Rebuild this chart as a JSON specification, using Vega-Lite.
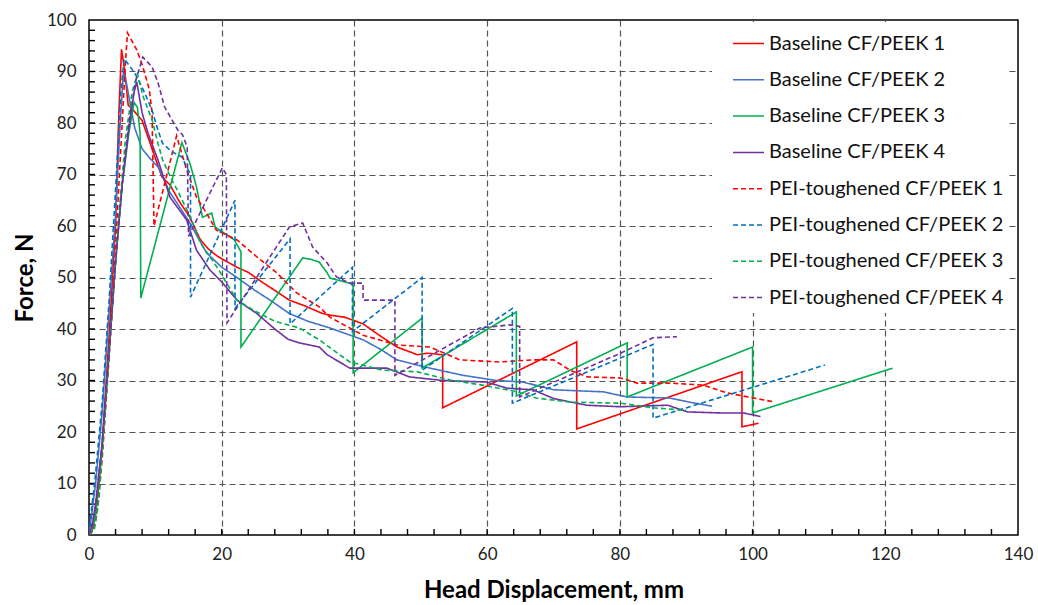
{
 "$schema": "https://vega.github.io/schema/vega-lite/v6.json",
 "width": 929, "height": 515,
 "autosize": {"type": "none"},
 "padding": {"left": 89, "top": 20, "right": 20, "bottom": 70},
 "background": "white",
 "config": {
  "font": "Lato",
  "view": {"stroke": "black", "strokeWidth": 1.5},
  "axis": {"domain": false, "grid": true, "ticks": false, "gridDash": [6, 4], "gridColor": "#555555", "gridWidth": 1.2, "labelFontSize": 17, "labelColor": "#222222", "labelFont": "Lato", "titleFont": "Lato", "titleFontSize": 24, "titleFontWeight": "bold", "titleColor": "#000000"}
 },
 "datasets": {
  "xticks": [{"t":4},{"t":8},{"t":12},{"t":16},{"t":20},{"t":24},{"t":28},{"t":32},{"t":36},{"t":40},{"t":44},{"t":48},{"t":52},{"t":56},{"t":60},{"t":64},{"t":68},{"t":72},{"t":76},{"t":80},{"t":84},{"t":88},{"t":92},{"t":96},{"t":100},{"t":104},{"t":108},{"t":112},{"t":116},{"t":120},{"t":124},{"t":128},{"t":132},{"t":136}],
  "yticks": [{"t":2},{"t":4},{"t":6},{"t":8},{"t":10},{"t":12},{"t":14},{"t":16},{"t":18},{"t":20},{"t":22},{"t":24},{"t":26},{"t":28},{"t":30},{"t":32},{"t":34},{"t":36},{"t":38},{"t":40},{"t":42},{"t":44},{"t":46},{"t":48},{"t":50},{"t":52},{"t":54},{"t":56},{"t":58},{"t":60},{"t":62},{"t":64},{"t":66},{"t":68},{"t":70},{"t":72},{"t":74},{"t":76},{"t":78},{"t":80},{"t":82},{"t":84},{"t":86},{"t":88},{"t":90},{"t":92},{"t":94},{"t":96},{"t":98}]
 },
 "data": {"values": [
  {"series":"Baseline CF/PEEK 1","i":0,"x":0,"y":0},{"series":"Baseline CF/PEEK 1","i":1,"x":0.5,"y":1},{"series":"Baseline CF/PEEK 1","i":2,"x":1,"y":4},{"series":"Baseline CF/PEEK 1","i":3,"x":1.5,"y":10},{"series":"Baseline CF/PEEK 1","i":4,"x":2,"y":18},{"series":"Baseline CF/PEEK 1","i":5,"x":3,"y":38},{"series":"Baseline CF/PEEK 1","i":6,"x":4,"y":60},{"series":"Baseline CF/PEEK 1","i":7,"x":4.5,"y":82},{"series":"Baseline CF/PEEK 1","i":8,"x":4.9,"y":94.3},{"series":"Baseline CF/PEEK 1","i":9,"x":5.4,"y":90},{"series":"Baseline CF/PEEK 1","i":10,"x":5.9,"y":83.5},{"series":"Baseline CF/PEEK 1","i":11,"x":7,"y":82},{"series":"Baseline CF/PEEK 1","i":12,"x":8,"y":80.5},{"series":"Baseline CF/PEEK 1","i":13,"x":9.5,"y":75},{"series":"Baseline CF/PEEK 1","i":14,"x":11,"y":69.5},{"series":"Baseline CF/PEEK 1","i":15,"x":12.2,"y":68},{"series":"Baseline CF/PEEK 1","i":16,"x":13.5,"y":65},{"series":"Baseline CF/PEEK 1","i":17,"x":15.2,"y":61.7},{"series":"Baseline CF/PEEK 1","i":18,"x":16.7,"y":57.5},{"series":"Baseline CF/PEEK 1","i":19,"x":18,"y":55.5},{"series":"Baseline CF/PEEK 1","i":20,"x":19.5,"y":54},{"series":"Baseline CF/PEEK 1","i":21,"x":22.3,"y":52},{"series":"Baseline CF/PEEK 1","i":22,"x":24,"y":51},{"series":"Baseline CF/PEEK 1","i":23,"x":26.2,"y":49},{"series":"Baseline CF/PEEK 1","i":24,"x":28,"y":47.5},{"series":"Baseline CF/PEEK 1","i":25,"x":30.2,"y":45.6},{"series":"Baseline CF/PEEK 1","i":26,"x":32.5,"y":44.5},{"series":"Baseline CF/PEEK 1","i":27,"x":35.2,"y":43},{"series":"Baseline CF/PEEK 1","i":28,"x":36.3,"y":42.7},{"series":"Baseline CF/PEEK 1","i":29,"x":38.5,"y":42.3},{"series":"Baseline CF/PEEK 1","i":30,"x":41.3,"y":41},{"series":"Baseline CF/PEEK 1","i":31,"x":43.5,"y":39},{"series":"Baseline CF/PEEK 1","i":32,"x":46.4,"y":36.5},{"series":"Baseline CF/PEEK 1","i":33,"x":49.5,"y":35},{"series":"Baseline CF/PEEK 1","i":34,"x":51,"y":35.3},{"series":"Baseline CF/PEEK 1","i":35,"x":53.3,"y":35},{"series":"Baseline CF/PEEK 1","i":36,"x":53.3,"y":24.7},{"series":"Baseline CF/PEEK 1","i":37,"x":73.5,"y":37.5},{"series":"Baseline CF/PEEK 1","i":38,"x":73.5,"y":20.6},{"series":"Baseline CF/PEEK 1","i":39,"x":98.4,"y":31.7},{"series":"Baseline CF/PEEK 1","i":40,"x":98.4,"y":21},{"series":"Baseline CF/PEEK 1","i":41,"x":100.9,"y":21.7},

  {"series":"Baseline CF/PEEK 2","i":0,"x":0,"y":0},{"series":"Baseline CF/PEEK 2","i":1,"x":0.3,"y":3},{"series":"Baseline CF/PEEK 2","i":2,"x":1,"y":10},{"series":"Baseline CF/PEEK 2","i":3,"x":2,"y":24},{"series":"Baseline CF/PEEK 2","i":4,"x":3,"y":43},{"series":"Baseline CF/PEEK 2","i":5,"x":4,"y":62},{"series":"Baseline CF/PEEK 2","i":6,"x":4.7,"y":80},{"series":"Baseline CF/PEEK 2","i":7,"x":5.2,"y":90},{"series":"Baseline CF/PEEK 2","i":8,"x":5.6,"y":88},{"series":"Baseline CF/PEEK 2","i":9,"x":6.9,"y":79},{"series":"Baseline CF/PEEK 2","i":10,"x":8,"y":75},{"series":"Baseline CF/PEEK 2","i":11,"x":9,"y":73.4},{"series":"Baseline CF/PEEK 2","i":12,"x":10.4,"y":71.5},{"series":"Baseline CF/PEEK 2","i":13,"x":12.2,"y":66.5},{"series":"Baseline CF/PEEK 2","i":14,"x":13.5,"y":64},{"series":"Baseline CF/PEEK 2","i":15,"x":15.2,"y":60.6},{"series":"Baseline CF/PEEK 2","i":16,"x":17.7,"y":54.8},{"series":"Baseline CF/PEEK 2","i":17,"x":20,"y":52},{"series":"Baseline CF/PEEK 2","i":18,"x":22.3,"y":50},{"series":"Baseline CF/PEEK 2","i":19,"x":25,"y":47.5},{"series":"Baseline CF/PEEK 2","i":20,"x":27.3,"y":45.6},{"series":"Baseline CF/PEEK 2","i":21,"x":30.2,"y":43},{"series":"Baseline CF/PEEK 2","i":22,"x":33,"y":41.5},{"series":"Baseline CF/PEEK 2","i":23,"x":36.3,"y":40.2},{"series":"Baseline CF/PEEK 2","i":24,"x":41.3,"y":37.9},{"series":"Baseline CF/PEEK 2","i":25,"x":44,"y":36},{"series":"Baseline CF/PEEK 2","i":26,"x":46.4,"y":34},{"series":"Baseline CF/PEEK 2","i":27,"x":51.4,"y":32.4},{"series":"Baseline CF/PEEK 2","i":28,"x":56.4,"y":31},{"series":"Baseline CF/PEEK 2","i":29,"x":61.4,"y":30},{"series":"Baseline CF/PEEK 2","i":30,"x":65.4,"y":29.7},{"series":"Baseline CF/PEEK 2","i":31,"x":70,"y":28.2},{"series":"Baseline CF/PEEK 2","i":32,"x":77.5,"y":27.8},{"series":"Baseline CF/PEEK 2","i":33,"x":81.1,"y":26.8},{"series":"Baseline CF/PEEK 2","i":34,"x":87.5,"y":26.6},{"series":"Baseline CF/PEEK 2","i":35,"x":90.5,"y":25.8},{"series":"Baseline CF/PEEK 2","i":36,"x":93.9,"y":25},

  {"series":"Baseline CF/PEEK 3","i":0,"x":0,"y":0},{"series":"Baseline CF/PEEK 3","i":1,"x":0.5,"y":1},{"series":"Baseline CF/PEEK 3","i":2,"x":1,"y":4},{"series":"Baseline CF/PEEK 3","i":3,"x":2,"y":17},{"series":"Baseline CF/PEEK 3","i":4,"x":3,"y":35},{"series":"Baseline CF/PEEK 3","i":5,"x":4,"y":53},{"series":"Baseline CF/PEEK 3","i":6,"x":5,"y":68},{"series":"Baseline CF/PEEK 3","i":7,"x":6,"y":78},{"series":"Baseline CF/PEEK 3","i":8,"x":6.8,"y":84},{"series":"Baseline CF/PEEK 3","i":9,"x":7.3,"y":83},{"series":"Baseline CF/PEEK 3","i":10,"x":7.7,"y":78},{"series":"Baseline CF/PEEK 3","i":11,"x":7.8,"y":46},{"series":"Baseline CF/PEEK 3","i":12,"x":14,"y":76.2},{"series":"Baseline CF/PEEK 3","i":13,"x":15.2,"y":72.2},{"series":"Baseline CF/PEEK 3","i":14,"x":16.2,"y":67.6},{"series":"Baseline CF/PEEK 3","i":15,"x":17.1,"y":61.7},{"series":"Baseline CF/PEEK 3","i":16,"x":18.5,"y":62.5},{"series":"Baseline CF/PEEK 3","i":17,"x":19,"y":59.8},{"series":"Baseline CF/PEEK 3","i":18,"x":20.4,"y":58.6},{"series":"Baseline CF/PEEK 3","i":19,"x":21.9,"y":57.3},{"series":"Baseline CF/PEEK 3","i":20,"x":22.9,"y":55},{"series":"Baseline CF/PEEK 3","i":21,"x":22.9,"y":36.5},{"series":"Baseline CF/PEEK 3","i":22,"x":32.2,"y":53.8},{"series":"Baseline CF/PEEK 3","i":23,"x":33.5,"y":53.5},{"series":"Baseline CF/PEEK 3","i":24,"x":34.7,"y":53},{"series":"Baseline CF/PEEK 3","i":25,"x":35.9,"y":50.9},{"series":"Baseline CF/PEEK 3","i":26,"x":36.3,"y":49.9},{"series":"Baseline CF/PEEK 3","i":27,"x":39.3,"y":48.9},{"series":"Baseline CF/PEEK 3","i":28,"x":39.8,"y":48.5},{"series":"Baseline CF/PEEK 3","i":29,"x":39.8,"y":31.5},{"series":"Baseline CF/PEEK 3","i":30,"x":50.2,"y":42.1},{"series":"Baseline CF/PEEK 3","i":31,"x":50.2,"y":32.4},{"series":"Baseline CF/PEEK 3","i":32,"x":64.4,"y":43.3},{"series":"Baseline CF/PEEK 3","i":33,"x":64.4,"y":27},{"series":"Baseline CF/PEEK 3","i":34,"x":81.1,"y":37.3},{"series":"Baseline CF/PEEK 3","i":35,"x":81.1,"y":26.8},{"series":"Baseline CF/PEEK 3","i":36,"x":100,"y":36.5},{"series":"Baseline CF/PEEK 3","i":37,"x":100,"y":23.7},{"series":"Baseline CF/PEEK 3","i":38,"x":121.1,"y":32.4},

  {"series":"Baseline CF/PEEK 4","i":0,"x":0,"y":0},{"series":"Baseline CF/PEEK 4","i":1,"x":0.5,"y":2},{"series":"Baseline CF/PEEK 4","i":2,"x":1,"y":6},{"series":"Baseline CF/PEEK 4","i":3,"x":2,"y":18},{"series":"Baseline CF/PEEK 4","i":4,"x":3,"y":35},{"series":"Baseline CF/PEEK 4","i":5,"x":4,"y":53},{"series":"Baseline CF/PEEK 4","i":6,"x":5,"y":68},{"series":"Baseline CF/PEEK 4","i":7,"x":6,"y":79},{"series":"Baseline CF/PEEK 4","i":8,"x":6.8,"y":86},{"series":"Baseline CF/PEEK 4","i":9,"x":7.2,"y":88},{"series":"Baseline CF/PEEK 4","i":10,"x":8,"y":82},{"series":"Baseline CF/PEEK 4","i":11,"x":8.9,"y":78},{"series":"Baseline CF/PEEK 4","i":12,"x":10.4,"y":72.8},{"series":"Baseline CF/PEEK 4","i":13,"x":12.2,"y":65.6},{"series":"Baseline CF/PEEK 4","i":14,"x":14.7,"y":61.2},{"series":"Baseline CF/PEEK 4","i":15,"x":16.2,"y":55.3},{"series":"Baseline CF/PEEK 4","i":16,"x":18.2,"y":51.5},{"series":"Baseline CF/PEEK 4","i":17,"x":20.1,"y":49},{"series":"Baseline CF/PEEK 4","i":18,"x":22.3,"y":45.6},{"series":"Baseline CF/PEEK 4","i":19,"x":25.3,"y":43},{"series":"Baseline CF/PEEK 4","i":20,"x":28,"y":40},{"series":"Baseline CF/PEEK 4","i":21,"x":30,"y":38},{"series":"Baseline CF/PEEK 4","i":22,"x":31.7,"y":37.3},{"series":"Baseline CF/PEEK 4","i":23,"x":34.7,"y":36.5},{"series":"Baseline CF/PEEK 4","i":24,"x":35.9,"y":35},{"series":"Baseline CF/PEEK 4","i":25,"x":39.3,"y":32.4},{"series":"Baseline CF/PEEK 4","i":26,"x":44.9,"y":32.4},{"series":"Baseline CF/PEEK 4","i":27,"x":48.3,"y":30.7},{"series":"Baseline CF/PEEK 4","i":28,"x":53.3,"y":30},{"series":"Baseline CF/PEEK 4","i":29,"x":59.9,"y":29.7},{"series":"Baseline CF/PEEK 4","i":30,"x":63,"y":28.5},{"series":"Baseline CF/PEEK 4","i":31,"x":66.9,"y":28.2},{"series":"Baseline CF/PEEK 4","i":32,"x":70,"y":26.5},{"series":"Baseline CF/PEEK 4","i":33,"x":75,"y":25.2},{"series":"Baseline CF/PEEK 4","i":34,"x":80.1,"y":24.9},{"series":"Baseline CF/PEEK 4","i":35,"x":87.2,"y":25.2},{"series":"Baseline CF/PEEK 4","i":36,"x":90.2,"y":23.9},{"series":"Baseline CF/PEEK 4","i":37,"x":95.1,"y":23.7},{"series":"Baseline CF/PEEK 4","i":38,"x":98.6,"y":23.7},{"series":"Baseline CF/PEEK 4","i":39,"x":101.2,"y":23},

  {"series":"PEI-toughened CF/PEEK 1","i":0,"x":0,"y":0},{"series":"PEI-toughened CF/PEEK 1","i":1,"x":0.7,"y":1},{"series":"PEI-toughened CF/PEEK 1","i":2,"x":1.2,"y":4},{"series":"PEI-toughened CF/PEEK 1","i":3,"x":2,"y":15},{"series":"PEI-toughened CF/PEEK 1","i":4,"x":3,"y":34},{"series":"PEI-toughened CF/PEEK 1","i":5,"x":4,"y":56},{"series":"PEI-toughened CF/PEEK 1","i":6,"x":5,"y":80},{"series":"PEI-toughened CF/PEEK 1","i":7,"x":5.5,"y":92},{"series":"PEI-toughened CF/PEEK 1","i":8,"x":5.8,"y":97.5},{"series":"PEI-toughened CF/PEEK 1","i":9,"x":7.2,"y":94.2},{"series":"PEI-toughened CF/PEEK 1","i":10,"x":8.1,"y":91},{"series":"PEI-toughened CF/PEEK 1","i":11,"x":9.1,"y":86.4},{"series":"PEI-toughened CF/PEEK 1","i":12,"x":9.5,"y":82},{"series":"PEI-toughened CF/PEEK 1","i":13,"x":9.8,"y":60},{"series":"PEI-toughened CF/PEEK 1","i":14,"x":13.2,"y":77.5},{"series":"PEI-toughened CF/PEEK 1","i":15,"x":14.7,"y":71},{"series":"PEI-toughened CF/PEEK 1","i":16,"x":16.2,"y":65.6},{"series":"PEI-toughened CF/PEEK 1","i":17,"x":17.7,"y":62.5},{"series":"PEI-toughened CF/PEEK 1","i":18,"x":19.2,"y":59.2},{"series":"PEI-toughened CF/PEEK 1","i":19,"x":22.3,"y":57.3},{"series":"PEI-toughened CF/PEEK 1","i":20,"x":25.3,"y":54},{"series":"PEI-toughened CF/PEEK 1","i":21,"x":28.3,"y":50.9},{"series":"PEI-toughened CF/PEEK 1","i":22,"x":31.3,"y":47},{"series":"PEI-toughened CF/PEEK 1","i":23,"x":34.7,"y":44.3},{"series":"PEI-toughened CF/PEEK 1","i":24,"x":36.3,"y":42.3},{"series":"PEI-toughened CF/PEEK 1","i":25,"x":41.3,"y":38.8},{"series":"PEI-toughened CF/PEEK 1","i":26,"x":46.4,"y":36.9},{"series":"PEI-toughened CF/PEEK 1","i":27,"x":51.4,"y":36.5},{"series":"PEI-toughened CF/PEEK 1","i":28,"x":55.9,"y":34},{"series":"PEI-toughened CF/PEEK 1","i":29,"x":61.9,"y":33.6},{"series":"PEI-toughened CF/PEEK 1","i":30,"x":66.9,"y":34},{"series":"PEI-toughened CF/PEEK 1","i":31,"x":70,"y":34},{"series":"PEI-toughened CF/PEEK 1","i":32,"x":72.5,"y":32},{"series":"PEI-toughened CF/PEEK 1","i":33,"x":75.1,"y":30.7},{"series":"PEI-toughened CF/PEEK 1","i":34,"x":80.1,"y":30.5},{"series":"PEI-toughened CF/PEEK 1","i":35,"x":82.6,"y":29.5},{"series":"PEI-toughened CF/PEEK 1","i":36,"x":87.5,"y":29.5},{"series":"PEI-toughened CF/PEEK 1","i":37,"x":92.6,"y":29.1},{"series":"PEI-toughened CF/PEEK 1","i":38,"x":96.1,"y":27.6},{"series":"PEI-toughened CF/PEEK 1","i":39,"x":103.4,"y":25.8},

  {"series":"PEI-toughened CF/PEEK 2","i":0,"x":0,"y":0},{"series":"PEI-toughened CF/PEEK 2","i":1,"x":0.3,"y":4},{"series":"PEI-toughened CF/PEEK 2","i":2,"x":1,"y":12},{"series":"PEI-toughened CF/PEEK 2","i":3,"x":2,"y":26},{"series":"PEI-toughened CF/PEEK 2","i":4,"x":3,"y":45},{"series":"PEI-toughened CF/PEEK 2","i":5,"x":4,"y":67},{"series":"PEI-toughened CF/PEEK 2","i":6,"x":4.8,"y":86},{"series":"PEI-toughened CF/PEEK 2","i":7,"x":5.3,"y":92.5},{"series":"PEI-toughened CF/PEEK 2","i":8,"x":6.9,"y":89.7},{"series":"PEI-toughened CF/PEEK 2","i":9,"x":8.2,"y":86.4},{"series":"PEI-toughened CF/PEEK 2","i":10,"x":9.5,"y":82.5},{"series":"PEI-toughened CF/PEEK 2","i":11,"x":10.4,"y":78.6},{"series":"PEI-toughened CF/PEEK 2","i":12,"x":11.1,"y":76},{"series":"PEI-toughened CF/PEEK 2","i":13,"x":12.5,"y":74.4},{"series":"PEI-toughened CF/PEEK 2","i":14,"x":14,"y":73.4},{"series":"PEI-toughened CF/PEEK 2","i":15,"x":14.9,"y":71},{"series":"PEI-toughened CF/PEEK 2","i":16,"x":15.3,"y":70},{"series":"PEI-toughened CF/PEEK 2","i":17,"x":15.3,"y":46.2},{"series":"PEI-toughened CF/PEEK 2","i":18,"x":22,"y":65},{"series":"PEI-toughened CF/PEEK 2","i":19,"x":22,"y":44},{"series":"PEI-toughened CF/PEEK 2","i":20,"x":30.3,"y":57.5},{"series":"PEI-toughened CF/PEEK 2","i":21,"x":30.3,"y":41},{"series":"PEI-toughened CF/PEEK 2","i":22,"x":39.7,"y":52},{"series":"PEI-toughened CF/PEEK 2","i":23,"x":39.7,"y":39.5},{"series":"PEI-toughened CF/PEEK 2","i":24,"x":50.2,"y":50},{"series":"PEI-toughened CF/PEEK 2","i":25,"x":50.2,"y":32},{"series":"PEI-toughened CF/PEEK 2","i":26,"x":63.8,"y":44},{"series":"PEI-toughened CF/PEEK 2","i":27,"x":63.8,"y":25.6},{"series":"PEI-toughened CF/PEEK 2","i":28,"x":85,"y":37},{"series":"PEI-toughened CF/PEEK 2","i":29,"x":85,"y":22.7},{"series":"PEI-toughened CF/PEEK 2","i":30,"x":110.9,"y":33},

  {"series":"PEI-toughened CF/PEEK 3","i":0,"x":0,"y":0},{"series":"PEI-toughened CF/PEEK 3","i":1,"x":0.8,"y":1},{"series":"PEI-toughened CF/PEEK 3","i":2,"x":1.5,"y":7},{"series":"PEI-toughened CF/PEEK 3","i":3,"x":2.5,"y":25},{"series":"PEI-toughened CF/PEEK 3","i":4,"x":3.5,"y":44},{"series":"PEI-toughened CF/PEEK 3","i":5,"x":4.5,"y":62},{"series":"PEI-toughened CF/PEEK 3","i":6,"x":5.5,"y":77},{"series":"PEI-toughened CF/PEEK 3","i":7,"x":6.5,"y":86},{"series":"PEI-toughened CF/PEEK 3","i":8,"x":7.3,"y":89.5},{"series":"PEI-toughened CF/PEEK 3","i":9,"x":8.2,"y":85},{"series":"PEI-toughened CF/PEEK 3","i":10,"x":9.5,"y":80.6},{"series":"PEI-toughened CF/PEEK 3","i":11,"x":10.4,"y":76},{"series":"PEI-toughened CF/PEEK 3","i":12,"x":11.1,"y":72.8},{"series":"PEI-toughened CF/PEEK 3","i":13,"x":12.5,"y":68.9},{"series":"PEI-toughened CF/PEEK 3","i":14,"x":13.3,"y":67},{"series":"PEI-toughened CF/PEEK 3","i":15,"x":15.3,"y":61.7},{"series":"PEI-toughened CF/PEEK 3","i":16,"x":16.8,"y":56.7},{"series":"PEI-toughened CF/PEEK 3","i":17,"x":19.3,"y":52},{"series":"PEI-toughened CF/PEEK 3","i":18,"x":22.3,"y":45.6},{"series":"PEI-toughened CF/PEEK 3","i":19,"x":25,"y":43.5},{"series":"PEI-toughened CF/PEEK 3","i":20,"x":28,"y":41.5},{"series":"PEI-toughened CF/PEEK 3","i":21,"x":31.7,"y":40.2},{"series":"PEI-toughened CF/PEEK 3","i":22,"x":34.7,"y":37.9},{"series":"PEI-toughened CF/PEEK 3","i":23,"x":39.3,"y":33.6},{"series":"PEI-toughened CF/PEEK 3","i":24,"x":44.3,"y":32},{"series":"PEI-toughened CF/PEEK 3","i":25,"x":49.4,"y":31.7},{"series":"PEI-toughened CF/PEEK 3","i":26,"x":54.4,"y":30.1},{"series":"PEI-toughened CF/PEEK 3","i":27,"x":59.3,"y":29.1},{"series":"PEI-toughened CF/PEEK 3","i":28,"x":64.5,"y":27.8},{"series":"PEI-toughened CF/PEEK 3","i":29,"x":67.4,"y":26.6},{"series":"PEI-toughened CF/PEEK 3","i":30,"x":72.5,"y":25.8},{"series":"PEI-toughened CF/PEEK 3","i":31,"x":80.1,"y":25.6},{"series":"PEI-toughened CF/PEEK 3","i":32,"x":85,"y":24.7},{"series":"PEI-toughened CF/PEEK 3","i":33,"x":90,"y":24.2},

  {"series":"PEI-toughened CF/PEEK 4","i":0,"x":0,"y":0},{"series":"PEI-toughened CF/PEEK 4","i":1,"x":0.5,"y":2},{"series":"PEI-toughened CF/PEEK 4","i":2,"x":1,"y":6},{"series":"PEI-toughened CF/PEEK 4","i":3,"x":2,"y":18},{"series":"PEI-toughened CF/PEEK 4","i":4,"x":3,"y":35},{"series":"PEI-toughened CF/PEEK 4","i":5,"x":4,"y":53},{"series":"PEI-toughened CF/PEEK 4","i":6,"x":5,"y":68},{"series":"PEI-toughened CF/PEEK 4","i":7,"x":6,"y":80},{"series":"PEI-toughened CF/PEEK 4","i":8,"x":7,"y":88},{"series":"PEI-toughened CF/PEEK 4","i":9,"x":8.1,"y":92.8},{"series":"PEI-toughened CF/PEEK 4","i":10,"x":9.5,"y":90.9},{"series":"PEI-toughened CF/PEEK 4","i":11,"x":10.4,"y":87.8},{"series":"PEI-toughened CF/PEEK 4","i":12,"x":11.4,"y":83.1},{"series":"PEI-toughened CF/PEEK 4","i":13,"x":12.5,"y":80.6},{"series":"PEI-toughened CF/PEEK 4","i":14,"x":13.4,"y":78.6},{"series":"PEI-toughened CF/PEEK 4","i":15,"x":14.1,"y":77.7},{"series":"PEI-toughened CF/PEEK 4","i":16,"x":14.8,"y":75.3},{"series":"PEI-toughened CF/PEEK 4","i":17,"x":15,"y":58},{"series":"PEI-toughened CF/PEEK 4","i":18,"x":20.1,"y":71.3},{"series":"PEI-toughened CF/PEEK 4","i":19,"x":20.7,"y":70},{"series":"PEI-toughened CF/PEEK 4","i":20,"x":20.8,"y":41.2},{"series":"PEI-toughened CF/PEEK 4","i":21,"x":30.2,"y":59.8},{"series":"PEI-toughened CF/PEEK 4","i":22,"x":32.2,"y":60.6},{"series":"PEI-toughened CF/PEEK 4","i":23,"x":33.7,"y":55.9},{"series":"PEI-toughened CF/PEEK 4","i":24,"x":35.9,"y":52.8},{"series":"PEI-toughened CF/PEEK 4","i":25,"x":37.3,"y":50.1},{"series":"PEI-toughened CF/PEEK 4","i":26,"x":39.3,"y":48.9},{"series":"PEI-toughened CF/PEEK 4","i":27,"x":41.3,"y":48.9},{"series":"PEI-toughened CF/PEEK 4","i":28,"x":41.3,"y":45.6},{"series":"PEI-toughened CF/PEEK 4","i":29,"x":46.1,"y":45.6},{"series":"PEI-toughened CF/PEEK 4","i":30,"x":46.1,"y":31},{"series":"PEI-toughened CF/PEEK 4","i":31,"x":58.9,"y":40.2},{"series":"PEI-toughened CF/PEEK 4","i":32,"x":63.4,"y":40.8},{"series":"PEI-toughened CF/PEEK 4","i":33,"x":64.9,"y":40.5},{"series":"PEI-toughened CF/PEEK 4","i":34,"x":64.9,"y":26.8},{"series":"PEI-toughened CF/PEEK 4","i":35,"x":80.1,"y":35.3},{"series":"PEI-toughened CF/PEEK 4","i":36,"x":85,"y":38.3},{"series":"PEI-toughened CF/PEEK 4","i":37,"x":88.6,"y":38.5}
 ]},
 "layer": [
  {
   "data": {"name": "xticks"},
   "mark": {"type": "tick", "orient": "vertical", "size": 6, "thickness": 1.4, "color": "#000000", "yOffset": -3, "opacity": 1},
   "encoding": {
    "x": {"field": "t", "type": "quantitative", "title": "Head Displacement, mm"},
    "y": {"datum": 0, "type": "quantitative", "title": "Force, N"}
   }
  },
  {
   "data": {"name": "yticks"},
   "mark": {"type": "tick", "orient": "horizontal", "size": 6, "thickness": 1.4, "color": "#000000", "xOffset": 3, "opacity": 1},
   "encoding": {
    "y": {"field": "t", "type": "quantitative", "title": "Force, N"},
    "x": {"datum": 0, "type": "quantitative", "title": "Head Displacement, mm"}
   }
  },
  {
   "mark": {"type": "line", "strokeWidth": 1.6, "clip": true},
   "encoding": {
    "x": {"field": "x", "type": "quantitative", "title": "Head Displacement, mm",
     "scale": {"domain": [0, 140], "nice": false, "zero": false},
     "axis": {"values": [0,20,40,60,80,100,120,140], "grid": true, "ticks": false, "labelPadding": 11, "labelFlush": false, "labelOverlap": false, "titlePadding": 16,
      "gridOpacity": {"condition": {"test": "datum.value > 0 && datum.value < 140", "value": 1}, "value": 0}}},
    "y": {"field": "y", "type": "quantitative", "title": "Force, N",
     "scale": {"domain": [0, 100], "nice": false, "zero": false},
     "axis": {"values": [0,10,20,30,40,50,60,70,80,90,100], "grid": true, "ticks": false, "labelPadding": 13, "labelFlush": false, "labelOverlap": false, "titlePadding": 9,
      "gridOpacity": {"condition": {"test": "datum.value > 0 && datum.value < 100", "value": 1}, "value": 0}}},
    "color": {"field": "series", "type": "nominal",
     "scale": {"domain": ["Baseline CF/PEEK 1","Baseline CF/PEEK 2","Baseline CF/PEEK 3","Baseline CF/PEEK 4","PEI-toughened CF/PEEK 1","PEI-toughened CF/PEEK 2","PEI-toughened CF/PEEK 3","PEI-toughened CF/PEEK 4"],
      "range": ["#FF0000","#4472C4","#00B050","#7030A0","#FF0000","#0070C0","#00B050","#7030A0"]},
     "legend": {"title": null, "orient": "none", "legendX": 623, "legendY": 2, "fillColor": "white", "padding": 5, "symbolOffset": 15, "symbolType": "stroke", "symbolSize": 961, "symbolStrokeWidth": 1.5, "labelFontSize": 20, "labelFont": "Lato", "labelColor": "#111111", "labelOffset": 4, "labelLimit": 500, "rowPadding": 9.3, "labelExpr": "datum.label + '\u00a0\u00a0'"}},
    "strokeDash": {"field": "series", "type": "nominal",
     "scale": {"domain": ["Baseline CF/PEEK 1","Baseline CF/PEEK 2","Baseline CF/PEEK 3","Baseline CF/PEEK 4","PEI-toughened CF/PEEK 1","PEI-toughened CF/PEEK 2","PEI-toughened CF/PEEK 3","PEI-toughened CF/PEEK 4"],
      "range": [[1,0],[1,0],[1,0],[1,0],[5,3],[5,3],[5,3],[5,3]]},
     "legend": {"title": null, "orient": "none", "legendX": 623, "legendY": 2, "fillColor": "white", "padding": 5, "symbolOffset": 15, "symbolType": "stroke", "symbolSize": 961, "symbolStrokeWidth": 1.5, "labelFontSize": 20, "labelFont": "Lato", "labelColor": "#111111", "labelOffset": 4, "labelLimit": 500, "rowPadding": 9.3, "labelExpr": "datum.label + '\u00a0\u00a0'"}},
    "order": {"field": "i", "type": "quantitative"}
   }
  }
 ]
}
